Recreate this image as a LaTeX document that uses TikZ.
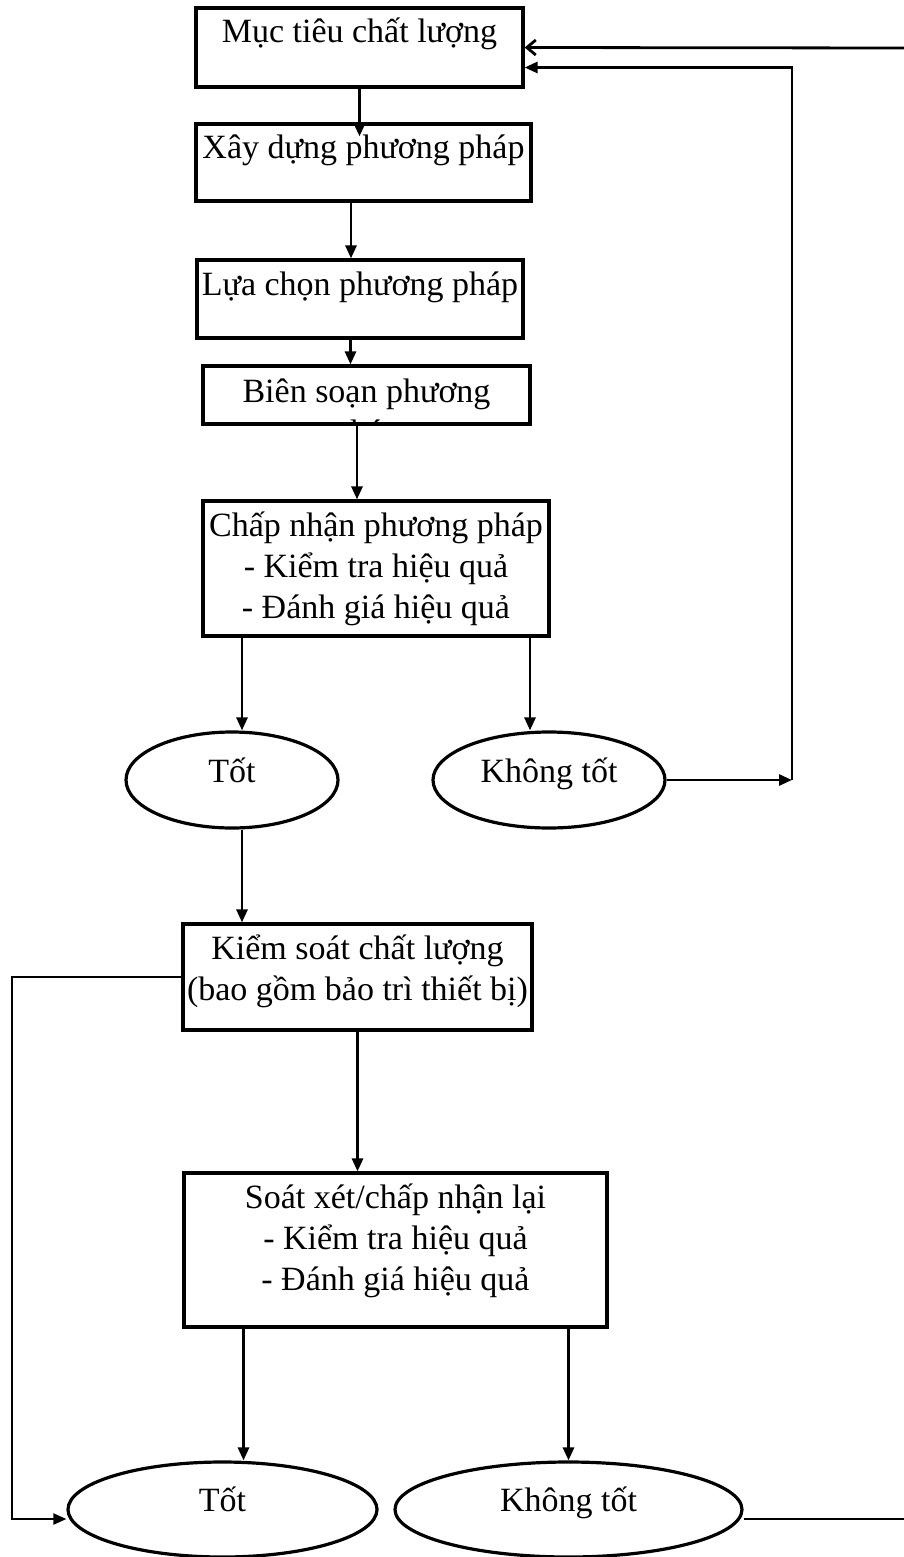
\documentclass[tikz,border=0pt]{standalone}
\usepackage{fontspec}
\setmainfont{Liberation Serif}
\usetikzlibrary{arrows.meta, shapes.geometric}
% text of a box starts at its top
\newcommand{\boxtxt}[3]{\parbox[c][#1][t]{#2}{\centering\rule{0pt}{35pt}#3}}

\begin{document}
\begin{tikzpicture}[x=1pt,y=-1pt,>={Triangle[length=13pt,width=11pt]},
  stepbox/.style={draw,line width=3.2pt,inner sep=0pt,font=\fontsize{34}{41}\selectfont},
  result/.style={ellipse,draw,line width=3.2pt,inner sep=0pt,text height=20pt,text depth=16pt,font=\fontsize{34}{41}\selectfont},
  link/.style={->,line width=2.8pt},
  back link/.style={->,line width=2.2pt},
  open link/.style={-{Straight Barb[length=9pt,width=15pt]},line width=2.8pt}]
  \useasboundingbox (0,0) rectangle (904,1557);

  \node[stepbox] (b1) at (359.5,47.5) {\boxtxt{79pt}{327pt}{Mục tiêu chất lượng}};
  \node[stepbox] (b2) at (363.5,162.5) {\boxtxt{77pt}{335pt}{Xây dựng phương pháp}};
  \node[stepbox] (b3) at (360,299) {\boxtxt{78pt}{326pt}{Lựa chọn phương pháp}};
  \node[stepbox,minimum width=327pt,minimum height=58pt,
    path picture={\node[anchor=north,inner sep=0pt,draw=none,font=\fontsize{34}{41}\selectfont] (b4t)
      at (path picture bounding box.north) {\boxtxt{58pt}{327pt}{Biên soạn phương\\pháp}};}] (b4) at (366.5,395) {};
  \node[stepbox] (b5) at (376,568.5) {\boxtxt{135pt}{346pt}{Chấp nhận phương pháp\\- Kiểm tra hiệu quả\\- Đánh giá hiệu quả}};
  \node[result,minimum width=212pt,minimum height=96pt] (t1) at (232,780) {Tốt};
  \node[result,minimum width=232pt,minimum height=96pt] (k1) at (549,780) {Không tốt};
  \node[stepbox] (b6) at (357.5,977) {\boxtxt{106pt}{349pt}{Kiểm soát chất lượng\\(bao gồm bảo trì thiết bị)}};
  \node[stepbox] (b7) at (395.5,1250) {\boxtxt{154pt}{423pt}{Soát xét/chấp nhận lại\\- Kiểm tra hiệu quả\\- Đánh giá hiệu quả}};
  \node[result,minimum width=309pt,minimum height=95pt] (t2) at (222.5,1509.5) {Tốt};
  \node[result,minimum width=347pt,minimum height=95pt] (k2) at (568.5,1509.5) {Không tốt};

  \coordinate (in1) at (904,48);
  \coordinate (c1) at (792,780);
  \coordinate (l1) at (12,1519);
  \coordinate (out2) at (904,1519);

  % main flow
  \draw[link] (b1.south) -- ([yshift=-14pt]b2.north -| b1.south);
  \draw[link] ([xshift=-9pt]b3.north |- b2.south) -- ([xshift=-9pt]b3.north);
  \draw[link] ([xshift=-16pt]b4.north |- b3.south) -- ([xshift=-16pt]b4.north);
  \draw[link] ([xshift=-19pt]b5.north |- b4.south) -- ([xshift=-19pt]b5.north);
  \draw[link] ([xshift=10pt]t1.north |- b5.south) -- ([xshift=10pt]t1.north);
  \draw[link] ([xshift=-19pt]k1.north |- b5.south) -- ([xshift=-19pt]k1.north);
  \draw[link] ([xshift=10pt]t1.south) -- ([xshift=10pt]t1.south |- b6.north);
  \draw[link] (b6.south) -- (b6.south |- b7.north);
  \draw[link] ([xshift=21pt]t2.north |- b7.south) -- ([xshift=21pt]t2.north);
  \draw[link] (k2.north |- b7.south) -- (k2.north);

  % loops back
  \draw[link] (k1.east) -- (c1);
  \draw[link] (c1) |- ([yshift=-20pt]b1.east);
  \draw[open link] (in1) -- (b1.east);
  \draw[back link] (b6.west) -| (l1) -- (l1 -| t2.west);
  \draw[line width=2.8pt] (k2.east |- out2) -- (out2);
\end{tikzpicture}
\end{document}
